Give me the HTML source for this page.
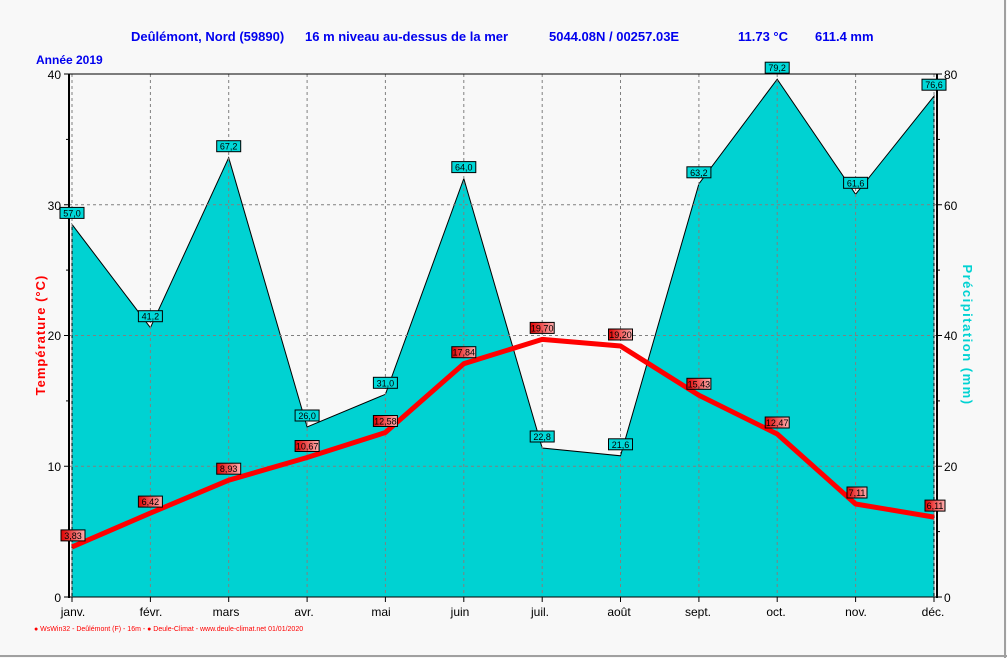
<!DOCTYPE html>
<html><head><meta charset="utf-8"><style>
body{margin:0;background:#f8f8f8}
svg{display:block;font-family:"Liberation Sans",sans-serif}
</style></head><body>
<svg width="1007" height="658" viewBox="0 0 1007 658" xmlns="http://www.w3.org/2000/svg">
<defs>
<linearGradient id="rg" x1="0" x2="1"><stop offset="0" stop-color="#e00000"/><stop offset="1" stop-color="#ffb0b0"/></linearGradient>
</defs>
<rect width="1007" height="658" fill="#f8f8f8"/>
<line x1="0" y1="656" x2="1007" y2="656" stroke="#a0a0a0" stroke-width="2"/>
<line x1="1005" y1="0" x2="1005" y2="658" stroke="#a0a0a0" stroke-width="2"/>
<g fill="#0000ee" font-weight="bold" font-size="13">
<text x="131" y="41">Deûlémont, Nord (59890)</text>
<text x="305" y="41">16 m niveau au-dessus de la mer</text>
<text x="549" y="41">5044.08N / 00257.03E</text>
<text x="738" y="41">11.73 °C</text>
<text x="815" y="41">611.4 mm</text>
<text x="36" y="64" font-size="12">Année  2019</text>
</g>
<!-- precip area -->
<polygon fill="#00d2d2" stroke="#000" stroke-width="1" points="72,597 72,224.4 150.4,327.7 228.7,157.7 307.1,427 385.4,394.3 463.8,178.6 542.2,448 620.5,455.8 698.9,183.8 777.2,79.2 855.6,194.3 934,96.2 934,597"/>
<!-- grid -->
<g stroke="#808080" stroke-dasharray="3,3" stroke-width="1">
<line x1="72" y1="74" x2="72" y2="597"/><line x1="150.4" y1="74" x2="150.4" y2="597"/><line x1="228.7" y1="74" x2="228.7" y2="597"/><line x1="307.1" y1="74" x2="307.1" y2="597"/><line x1="385.4" y1="74" x2="385.4" y2="597"/><line x1="463.8" y1="74" x2="463.8" y2="597"/><line x1="542.2" y1="74" x2="542.2" y2="597"/><line x1="620.5" y1="74" x2="620.5" y2="597"/><line x1="698.9" y1="74" x2="698.9" y2="597"/><line x1="777.2" y1="74" x2="777.2" y2="597"/><line x1="855.6" y1="74" x2="855.6" y2="597"/><line x1="934" y1="74" x2="934" y2="597"/>
<line x1="69" y1="466.25" x2="937" y2="466.25"/><line x1="69" y1="335.5" x2="937" y2="335.5"/><line x1="69" y1="204.75" x2="937" y2="204.75"/>
</g>
<!-- axes -->
<line x1="69" y1="74" x2="937" y2="74" stroke="#000" stroke-width="1"/>
<line x1="69" y1="597" x2="937" y2="597" stroke="#000" stroke-width="1"/>
<line x1="69" y1="74" x2="69" y2="598" stroke="#000" stroke-width="2"/>
<line x1="937" y1="74" x2="937" y2="598" stroke="#000" stroke-width="2"/>
<g stroke="#000">
<line x1="64" y1="74" x2="69" y2="74"/><line x1="64" y1="204.75" x2="69" y2="204.75"/><line x1="64" y1="335.5" x2="69" y2="335.5"/><line x1="64" y1="466.25" x2="69" y2="466.25"/><line x1="64" y1="597" x2="69" y2="597"/>
<line x1="66" y1="139.4" x2="69" y2="139.4"/><line x1="66" y1="270.1" x2="69" y2="270.1"/><line x1="66" y1="400.9" x2="69" y2="400.9"/><line x1="66" y1="531.6" x2="69" y2="531.6"/>
<line x1="937" y1="74" x2="942" y2="74"/><line x1="937" y1="204.75" x2="942" y2="204.75"/><line x1="937" y1="335.5" x2="942" y2="335.5"/><line x1="937" y1="466.25" x2="942" y2="466.25"/><line x1="937" y1="597" x2="942" y2="597"/>
<line x1="937" y1="139.4" x2="940" y2="139.4"/><line x1="937" y1="270.1" x2="940" y2="270.1"/><line x1="937" y1="400.9" x2="940" y2="400.9"/><line x1="937" y1="531.6" x2="940" y2="531.6"/>
<line x1="72" y1="597" x2="72" y2="602"/><line x1="150.4" y1="597" x2="150.4" y2="602"/><line x1="228.7" y1="597" x2="228.7" y2="602"/><line x1="307.1" y1="597" x2="307.1" y2="602"/><line x1="385.4" y1="597" x2="385.4" y2="602"/><line x1="463.8" y1="597" x2="463.8" y2="602"/><line x1="542.2" y1="597" x2="542.2" y2="602"/><line x1="620.5" y1="597" x2="620.5" y2="602"/><line x1="698.9" y1="597" x2="698.9" y2="602"/><line x1="777.2" y1="597" x2="777.2" y2="602"/><line x1="855.6" y1="597" x2="855.6" y2="602"/><line x1="934" y1="597" x2="934" y2="602"/>
</g>
<g font-size="12" fill="#000" text-anchor="end">
<text x="61" y="79">40</text><text x="61" y="210">30</text><text x="61" y="340">20</text><text x="61" y="471">10</text><text x="61" y="602">0</text>
</g>
<g font-size="12" fill="#000">
<text x="944" y="79">80</text><text x="944" y="210">60</text><text x="944" y="340">40</text><text x="944" y="471">20</text><text x="944" y="602">0</text>
</g>
<g font-size="12" fill="#000" text-anchor="middle">
<text x="73" y="616">janv.</text><text x="151" y="616">févr.</text><text x="226" y="616">mars</text><text x="304" y="616">avr.</text><text x="381" y="616">mai</text><text x="460" y="616">juin</text><text x="540" y="616">juil.</text><text x="619" y="616">août</text><text x="698" y="616">sept.</text><text x="776" y="616">oct.</text><text x="856" y="616">nov.</text><text x="933" y="616">déc.</text>
</g>
<text transform="translate(45,335) rotate(-90)" text-anchor="middle" font-size="13" font-weight="bold" fill="#ff0000" letter-spacing="1">Température  (°C)</text>
<text transform="translate(963,335) rotate(90)" text-anchor="middle" font-size="13" font-weight="bold" fill="#00d2d2" letter-spacing="1.5">Précipitation  (mm)</text>
<!-- temp line -->
<polyline fill="none" stroke="#ff0000" stroke-width="5" stroke-linejoin="round" points="72,546.9 150.4,513.1 228.7,480.2 307.1,457.5 385.4,432.5 463.8,363.7 542.2,339.4 620.5,346 698.9,395.3 777.2,434 855.6,504 934,517.1"/>
<!-- precip labels -->
<g font-size="9" text-anchor="middle" fill="#000">
<g stroke="#000" stroke-width="1" fill="#00d8d8">
<rect x="60" y="207.4" width="24" height="11"/><rect x="138.4" y="310.7" width="24" height="11"/><rect x="216.7" y="140.7" width="24" height="11"/><rect x="295.1" y="410" width="24" height="11"/><rect x="373.4" y="377.3" width="24" height="11"/><rect x="451.8" y="161.6" width="24" height="11"/><rect x="530.2" y="431" width="24" height="11"/><rect x="608.5" y="438.8" width="24" height="11"/><rect x="686.9" y="166.8" width="24" height="11"/><rect x="765.2" y="62.2" width="24" height="11"/><rect x="843.6" y="177.3" width="24" height="11"/><rect x="922" y="79.2" width="24" height="11"/>
</g>
<text x="72" y="216.4">57,0</text><text x="150.4" y="319.7">41,2</text><text x="228.7" y="149.7">67,2</text><text x="307.1" y="419">26,0</text><text x="385.4" y="386.3">31,0</text><text x="463.8" y="170.6">64,0</text><text x="542.2" y="440">22,8</text><text x="620.5" y="447.8">21,6</text><text x="698.9" y="175.8">63,2</text><text x="777.2" y="71.2">79,2</text><text x="855.6" y="186.3">61,6</text><text x="934" y="88.2">76,6</text>
</g>
<!-- temp labels -->
<g font-size="9" text-anchor="middle" fill="#000">
<g stroke="#000" stroke-width="1" fill="url(#rg)">
<rect x="61" y="529.9" width="24" height="11"/><rect x="138.4" y="496.1" width="24" height="11"/><rect x="216.7" y="463.2" width="24" height="11"/><rect x="295.1" y="440.5" width="24" height="11"/><rect x="373.4" y="415.5" width="24" height="11"/><rect x="451.8" y="346.7" width="24" height="11"/><rect x="530.2" y="322.4" width="24" height="11"/><rect x="608.5" y="329" width="24" height="11"/><rect x="686.9" y="378.3" width="24" height="11"/><rect x="765.2" y="417" width="24" height="11"/><rect x="847" y="487" width="20" height="11"/><rect x="925" y="500.1" width="20" height="11"/>
</g>
<text x="73" y="538.9">3,83</text><text x="150.4" y="505.1">6,42</text><text x="228.7" y="472.2">8,93</text><text x="307.1" y="449.5">10,67</text><text x="385.4" y="424.5">12,58</text><text x="463.8" y="355.7">17,84</text><text x="542.2" y="331.4">19,70</text><text x="620.5" y="338">19,20</text><text x="698.9" y="387.3">15,43</text><text x="777.2" y="426">12,47</text><text x="857" y="496">7,11</text><text x="935" y="509.1">6,11</text>
</g>
<text x="34" y="631" font-size="7" fill="#ff0000">● WsWin32  -  Deûlémont (F) - 16m  -  ● Deule-Climat - www.deule-climat.net  01/01/2020</text>
</svg>
</body></html>
